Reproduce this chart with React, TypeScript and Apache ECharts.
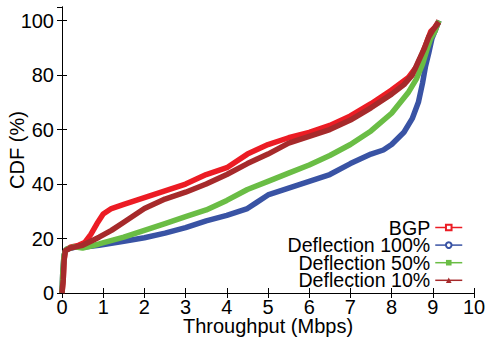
import React, { useEffect, useRef } from "react";
import * as echarts from "echarts";

const seriesNames = ["BGP", "Deflection 100%", "Deflection 50%", "Deflection 10%"];

const bgp: [number, number][] = [
  [0, 0], [0.03, 5], [0.05, 12], [0.08, 15.5], [0.2, 16.8], [0.4, 17.5], [0.55, 18.5],
  [0.7, 21.5], [0.85, 25.5], [1.0, 29], [1.2, 31], [1.5, 32.5], [2.0, 35], [2.5, 37.5],
  [3.0, 40], [3.5, 43.5], [4.0, 46], [4.5, 51], [5.0, 54.5], [5.5, 57], [6.0, 59],
  [6.5, 61.5], [7.0, 65], [7.5, 69.5], [8.0, 74.5], [8.4, 79], [8.6, 83], [8.75, 88],
  [8.85, 92], [8.95, 96], [9.05, 97.5], [9.15, 100],
];

const defl100: [number, number][] = [
  [0, 0], [0.02, 8], [0.05, 14], [0.1, 16], [0.3, 16.8], [0.6, 17], [0.9, 17.5],
  [1.5, 19], [2.0, 20.3], [2.5, 22], [3.0, 24], [3.5, 26.5], [4.0, 28.5], [4.5, 31],
  [4.7, 33], [5.0, 36], [5.5, 38.5], [6.0, 41], [6.5, 43.5], [7.0, 47.5], [7.5, 51],
  [7.8, 52.5], [8.0, 54.5], [8.3, 59], [8.5, 64], [8.65, 70], [8.75, 77], [8.82, 83],
  [8.9, 88], [8.98, 93.5], [9.05, 96], [9.15, 100],
];

const defl50: [number, number][] = [
  [0, 0], [0.02, 8], [0.05, 14], [0.1, 16], [0.3, 17], [0.5, 16.5], [0.9, 18],
  [1.5, 20.5], [2.0, 23], [2.5, 25.5], [3.0, 28], [3.5, 30.5], [4.0, 34], [4.5, 38],
  [5.0, 41], [5.5, 44], [6.0, 47], [6.5, 50.5], [7.0, 54.5], [7.5, 59.5], [8.0, 66],
  [8.4, 73.5], [8.6, 78.5], [8.75, 84], [8.85, 89], [8.95, 93.5], [9.05, 96], [9.15, 100],
];

const defl10: [number, number][] = [
  [0, 0], [0.03, 5], [0.05, 12], [0.08, 15.5], [0.2, 16.5], [0.5, 17.5], [0.9, 20.5],
  [1.2, 23], [1.5, 26], [2.0, 31], [2.5, 34.5], [3.0, 37], [3.5, 40], [4.0, 43.5],
  [4.5, 47.5], [5.0, 51], [5.5, 55], [6.0, 57.5], [6.5, 60], [7.0, 63.5], [7.5, 68],
  [8.0, 73], [8.3, 76.5], [8.5, 80], [8.65, 85], [8.8, 90], [8.9, 94], [9.0, 96.5],
  [9.15, 99.5],
];

const colors = ["#ec1c24", "#3953a4", "#6abd45", "#a62a2b"];
const symbols = ["emptyRect", "emptyCircle", "rect", "triangle"];
const allData = [bgp, defl100, defl50, defl10];

const FONT = "'Liberation Sans', Arial, Helvetica, sans-serif";

export default function App() {
  const ref = useRef<HTMLDivElement>(null);
  useEffect(() => {
    document.body.style.margin = "0";
    if (!ref.current) return;
    const chart = echarts.init(ref.current, null, { renderer: "svg" });
    const axisLine = { show: true, lineStyle: { color: "#000", width: 1 } };
    const tick = { show: true, inside: true, length: 5, lineStyle: { color: "#000", width: 1 } };
    chart.setOption({
      animation: false,
      backgroundColor: "#fff",
      textStyle: { fontFamily: FONT },
      grid: { left: 62, right: 15, top: 7, bottom: 47, containLabel: false, outerBoundsMode: "none" },
      legend: {
        data: seriesNames,
        orient: "vertical",
        align: "right",
        right: 26,
        top: 217.5,
        padding: 0,
        itemWidth: 27,
        itemHeight: 7,
        itemGap: -2.4,
        selectedMode: false,
        lineStyle: { width: 1.5 },
        textStyle: { fontSize: 19.6, color: "#000", fontFamily: FONT },
      },
      xAxis: [
        {
          type: "value", min: 0, max: 10, interval: 1, position: "bottom",
          axisLine, axisTick: tick, splitLine: { show: false },
          axisLabel: { fontSize: 20, lineHeight: 16, color: "#000", margin: 6, fontFamily: FONT },
          name: "Throughput (Mbps)", nameLocation: "middle", nameGap: 25, nameMoveOverlap: false,
          nameTextStyle: { fontSize: 20, lineHeight: 16, color: "#000", fontFamily: FONT },
        },
        {
          type: "value", min: 0, max: 10, interval: 1, position: "top",
          axisLine, axisTick: tick, splitLine: { show: false }, axisLabel: { show: false },
        },
      ],
      yAxis: [
        {
          type: "value", min: 0, max: 105, interval: 20, position: "left",
          axisLine, axisTick: tick, splitLine: { show: false },
          axisLabel: { fontSize: 20, color: "#000", margin: 8, fontFamily: FONT, showMaxLabel: false,
            formatter: (v: number) => (v > 100 ? "" : String(v)) },
          name: "CDF (%)", nameLocation: "middle", nameGap: 35, nameMoveOverlap: false,
          nameTextStyle: { fontSize: 20, color: "#000", fontFamily: FONT },
        },
        {
          type: "value", min: 0, max: 105, interval: 20, position: "right",
          axisLine, axisTick: tick, splitLine: { show: false }, axisLabel: { show: false },
        },
      ],
      series: seriesNames.map((name, i) => ({
        name,
        type: "line",
        data: allData[i],
        xAxisIndex: 0,
        yAxisIndex: 0,
        symbol: symbols[i],
        symbolSize: 6,
        showSymbol: false,
        color: colors[i],
        lineStyle: { color: colors[i], width: 5.5 },
        itemStyle: { color: colors[i] },
        z: 2 + i,
      })),
    });
    return () => chart.dispose();
  }, []);
  return <div ref={ref} style={{ width: 489, height: 340 }} />;
}
